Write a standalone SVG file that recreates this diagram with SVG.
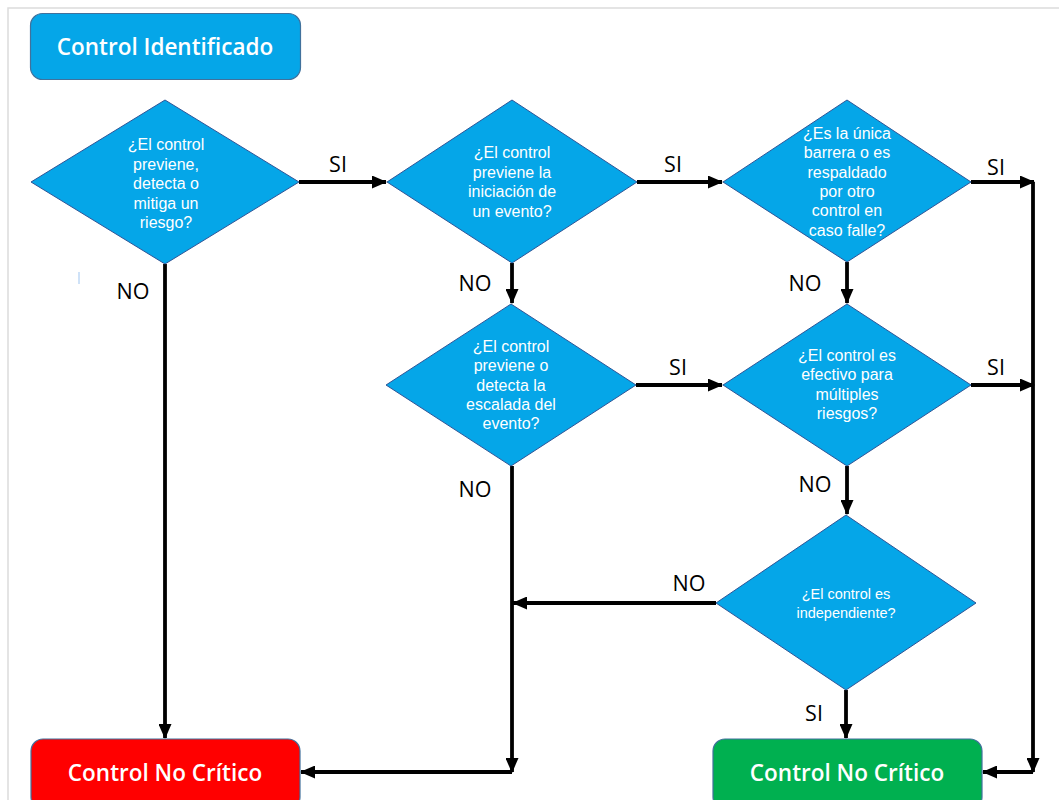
<svg xmlns="http://www.w3.org/2000/svg" width="1059" height="800" viewBox="0 0 1059 800">
  <style>
    .frame { fill: none; stroke: #dcdcdc; stroke-width: 1.5; }
    .box { stroke: #41719c; stroke-width: 1.2; }
    .start { fill: #05a6e8; }
    .bad { fill: #ff0000; }
    .good { fill: #00b050; }
    .dia { fill: #05a6e8; stroke: #2f5597; stroke-width: 1; }
    .btxt { font-family: "Open Sans", "Liberation Sans", sans-serif; font-size: 22.5px; font-weight: 600; fill: #ffffff; text-anchor: middle; }
    .qtxt { font-family: "Liberation Sans", Arial, sans-serif; font-size: 16px; fill: #ffffff; text-anchor: middle; }
    .qsm { font-size: 14.5px; }
    .lbl { font-family: "Open Sans", "Liberation Sans", sans-serif; font-size: 21.5px; fill: #000000; text-anchor: middle; }
    .wire { fill: none; stroke: #000000; stroke-width: 3.8; }
  </style>
  <defs>
    <marker id="arrow" markerUnits="userSpaceOnUse" markerWidth="15" markerHeight="13" refX="14" refY="6.5" orient="auto">
      <path d="M0,0 L15,6.5 L0,13 Z" fill="#000000"/>
    </marker>
  </defs>

  <rect width="1059" height="800" fill="#ffffff"/>
  <path class="frame" d="M8,800 L8,8 L1059,8"/>
  <line x1="79" y1="272" x2="79" y2="284" stroke="#9fc5f0" stroke-width="1"/>

  <!-- connectors -->
  <g id="connectors">
    <path class="wire" d="M299,182 L386,182" marker-end="url(#arrow)"/>
    <path class="wire" d="M165,264 L165,738" marker-end="url(#arrow)"/>
    <path class="wire" d="M637,182 L722,182" marker-end="url(#arrow)"/>
    <path class="wire" d="M512,263 L512,303" marker-end="url(#arrow)"/>
    <path class="wire" d="M971,182 L1034,182" marker-end="url(#arrow)"/>
    <path class="wire" d="M1033,182 L1033,772" marker-end="url(#arrow)"/>
    <path class="wire" d="M1033,772 L983,772" marker-end="url(#arrow)"/>
    <path class="wire" d="M847,262 L847,303" marker-end="url(#arrow)"/>
    <path class="wire" d="M636,385 L722,385" marker-end="url(#arrow)"/>
    <path class="wire" d="M971,385 L1034,385" marker-end="url(#arrow)"/>
    <path class="wire" d="M512,466 L512,772" marker-end="url(#arrow)"/>
    <path class="wire" d="M512,772 L301,772" marker-end="url(#arrow)"/>
    <path class="wire" d="M847,466 L847,514" marker-end="url(#arrow)"/>
    <path class="wire" d="M716,603 L513,603" marker-end="url(#arrow)"/>
    <path class="wire" d="M846,690 L846,738" marker-end="url(#arrow)"/>

    <text class="lbl" x="338" y="172">SI</text>
    <text class="lbl" x="133" y="299">NO</text>
    <text class="lbl" x="475" y="291">NO</text>
    <text class="lbl" x="673" y="172">SI</text>
    <text class="lbl" x="996" y="175">SI</text>
    <text class="lbl" x="805" y="291">NO</text>
    <text class="lbl" x="678" y="375">SI</text>
    <text class="lbl" x="996" y="375">SI</text>
    <text class="lbl" x="475" y="497">NO</text>
    <text class="lbl" x="815" y="492">NO</text>
    <text class="lbl" x="689" y="591">NO</text>
    <text class="lbl" x="814" y="721">SI</text>
  </g>

  <g id="start">
    <rect class="box start" x="30.5" y="13.5" width="270" height="66" rx="12"/>
    <text class="btxt" x="165" y="55">Control Identificado</text>
  </g>

  <g id="q1">
    <polygon class="dia" points="165,100 299,182 165,264 31,182"/>
    <text class="qtxt" x="166" y="150">¿El control<tspan x="166" dy="19.5">previene,</tspan><tspan x="166" dy="19.5">detecta o</tspan><tspan x="166" dy="19.5">mitiga un</tspan><tspan x="166" dy="19.5">riesgo?</tspan></text>
  </g>

  <g id="q2">
    <polygon class="dia" points="512,100 637,182 512,263 387,182"/>
    <text class="qtxt" x="512" y="158">¿El control<tspan x="512" dy="19.5">previene la</tspan><tspan x="512" dy="19.5">iniciación de</tspan><tspan x="512" dy="19.5">un evento?</tspan></text>
  </g>

  <g id="q3">
    <polygon class="dia" points="847,100 971,182 847,262 723,182"/>
    <text class="qtxt" x="847" y="139">¿Es la única<tspan x="847" dy="19.3">barrera o es</tspan><tspan x="847" dy="19.3">respaldado</tspan><tspan x="847" dy="19.3">por otro</tspan><tspan x="847" dy="19.3">control en</tspan><tspan x="847" dy="19.3">caso falle?</tspan></text>
  </g>

  <g id="q4">
    <polygon class="dia" points="511,304 636,385 511,466 386,385"/>
    <text class="qtxt" x="511" y="352">¿El control<tspan x="511" dy="19.3">previene o</tspan><tspan x="511" dy="19.3">detecta la</tspan><tspan x="511" dy="19.3">escalada del</tspan><tspan x="511" dy="19.3">evento?</tspan></text>
  </g>

  <g id="q5">
    <polygon class="dia" points="847,304 971,385 847,466 723,385"/>
    <text class="qtxt" x="847" y="361">¿El control es<tspan x="847" dy="19.3">efectivo para</tspan><tspan x="847" dy="19.3">múltiples</tspan><tspan x="847" dy="19.3">riesgos?</tspan></text>
  </g>

  <g id="q6">
    <polygon class="dia" points="846,515 976,603 846,690 716,603"/>
    <text class="qtxt qsm" x="846" y="599">¿El control es<tspan x="846" dy="19">independiente?</tspan></text>
  </g>

  <g id="critical-no-red">
    <rect class="box bad" x="31" y="739" width="269" height="70" rx="12"/>
    <text class="btxt" x="165" y="781">Control No Crítico</text>
  </g>

  <g id="critical-no-green">
    <rect class="box good" x="713" y="739" width="269" height="70" rx="12"/>
    <text class="btxt" x="847" y="781">Control No Crítico</text>
  </g>
</svg>
